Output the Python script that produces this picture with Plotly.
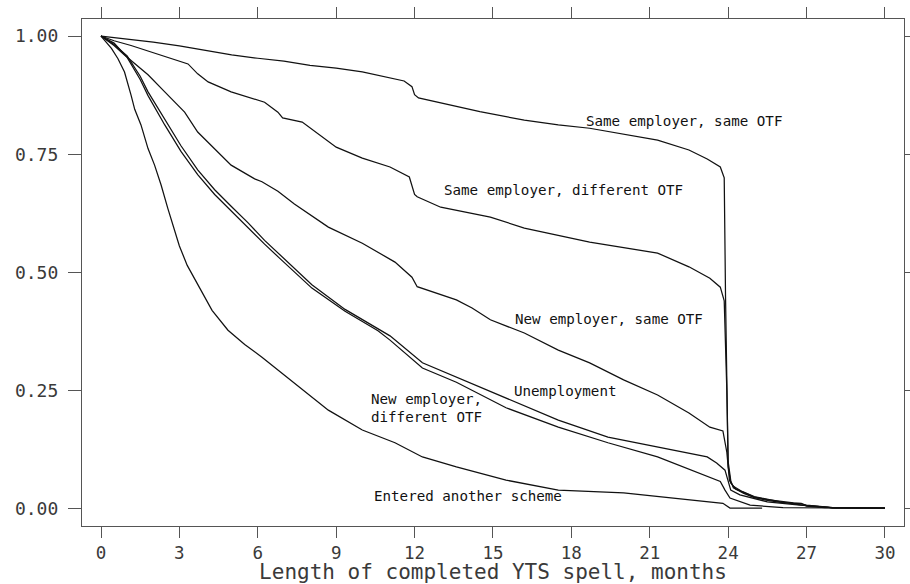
import plotly.graph_objects as go

# ---- data ----
month_A = [0, 1, 2, 3, 4, 5, 6, 7, 8, 9, 10, 11, 11.6, 11.9, 12.0, 12.15, 13, 14.5, 16.2, 17.5, 18.7, 20, 21.3, 22.5, 23.2, 23.7, 23.85, 23.9, 23.95, 24.0, 24.1, 24.3, 24.6, 25.0, 25.5, 26.0, 26.5, 26.8, 27.0, 27.7, 30]
surv_A = [1.0, 0.994, 0.987, 0.979, 0.969, 0.96, 0.953, 0.947, 0.938, 0.932, 0.924, 0.913, 0.905, 0.893, 0.876, 0.869, 0.858, 0.84, 0.822, 0.812, 0.805, 0.793, 0.78, 0.759, 0.74, 0.723, 0.70, 0.45, 0.2, 0.09, 0.055, 0.042, 0.035, 0.025, 0.02, 0.016, 0.013, 0.012, 0.006, 0.003, 0.002]

month_B = [0, 0.5, 1.15, 2.44, 3.33, 3.7, 4.1, 4.98, 6.26, 6.77, 6.95, 7.7, 9, 10, 11.06, 11.8, 12.0, 12.1, 13, 14.9, 16.2, 18.7, 21.3, 22.5, 23.3, 23.7, 23.85, 23.95, 24.0, 24.1, 24.2, 24.6, 25, 25.5, 26, 26.8, 27.0, 27.8, 28, 30]
surv_B = [1.0, 0.99, 0.98, 0.956, 0.941, 0.92, 0.903, 0.882, 0.86, 0.839, 0.827, 0.818, 0.765, 0.742, 0.723, 0.702, 0.665, 0.66, 0.638, 0.617, 0.594, 0.564, 0.541, 0.512, 0.488, 0.469, 0.44, 0.25, 0.1, 0.06, 0.045, 0.033, 0.024, 0.018, 0.014, 0.011, 0.008, 0.004, 0.002, 0.002]

month_C = [0, 0.5, 0.9, 1.8, 2.44, 3.2, 3.7, 4.35, 4.98, 5.88, 6.16, 6.77, 7.4, 8.7, 10, 11.25, 11.9, 12.1, 13.6, 14.2, 14.9, 16.2, 17.5, 18.7, 20, 21.3, 22.5, 23.3, 23.8, 23.95, 24.05, 24.2, 24.5, 25, 25.5, 26, 26.5, 27, 28, 30]
surv_C = [1.0, 0.98, 0.96, 0.918, 0.882, 0.839, 0.797, 0.762, 0.727, 0.698, 0.692, 0.672, 0.645, 0.596, 0.562, 0.522, 0.49, 0.47, 0.442, 0.425, 0.4, 0.372, 0.336, 0.309, 0.273, 0.241, 0.203, 0.173, 0.165, 0.12, 0.06, 0.048, 0.038, 0.026, 0.02, 0.015, 0.011, 0.007, 0.003, 0.002]

month_D = [0, 0.5, 1.0, 1.5, 1.8, 2.18, 2.44, 3.06, 3.7, 4.35, 4.98, 5.63, 6.26, 6.8, 8.07, 9.34, 10.6, 11.06, 12.3, 13.6, 15.5, 17.5, 19.4, 21.3, 23.2, 23.56, 23.88, 24.1, 24.45, 25.5, 26.75, 28, 30]
surv_D = [1.0, 0.982, 0.958, 0.915, 0.882, 0.847, 0.824, 0.768, 0.717, 0.675, 0.64, 0.605, 0.568, 0.54, 0.474, 0.422, 0.38, 0.366, 0.309, 0.279, 0.235, 0.188, 0.152, 0.131, 0.11, 0.097, 0.082, 0.04, 0.03, 0.015, 0.008, 0.003, 0.002]

month_E = [0, 0.5, 1.0, 1.5, 1.8, 2.18, 2.44, 3.06, 3.7, 4.35, 4.98, 5.63, 6.26, 6.8, 8.07, 9.34, 10.6, 11.06, 12.3, 13.6, 15.5, 17.5, 19.4, 21.3, 23.2, 23.7, 23.88, 24.07, 24.84, 26.1, 30]
surv_E = [1.0, 0.985, 0.955, 0.908, 0.874, 0.837, 0.812, 0.756, 0.707, 0.665, 0.63, 0.595, 0.56, 0.532, 0.467, 0.418, 0.377, 0.357, 0.298, 0.268, 0.214, 0.173, 0.14, 0.11, 0.068, 0.058, 0.04, 0.023, 0.008, 0.003, 0.002]

month_F = [0, 0.4, 0.65, 0.9, 1.15, 1.29, 1.53, 1.8, 2.05, 2.3, 2.56, 2.82, 3.0, 3.3, 3.6, 4.25, 4.86, 5.5, 6.16, 7.42, 8.7, 10, 11.25, 12.3, 13.6, 15.5, 17.5, 20, 22.5, 23.8, 24.07, 25.3]
surv_F = [1.0, 0.974, 0.952, 0.924, 0.875, 0.845, 0.812, 0.762, 0.727, 0.685, 0.635, 0.588, 0.556, 0.515, 0.484, 0.42, 0.378, 0.348, 0.321, 0.266, 0.209, 0.167, 0.14, 0.11, 0.089, 0.061, 0.04, 0.034, 0.019, 0.012, 0.002, 0.002]

series = [
    ("Same employer, same OTF", month_A, surv_A),
    ("Same employer, different OTF", month_B, surv_B),
    ("New employer, same OTF", month_C, surv_C),
    ("Unemployment", month_D, surv_D),
    ("New employer, different OTF", month_E, surv_E),
    ("Entered another scheme", month_F, surv_F),
]

label_text = ["Same employer, same OTF", "Same employer, different OTF",
              "New employer, same OTF", "Unemployment",
              "New employer,<br>different OTF", "Entered another scheme"]
label_x = [22.3, 17.7, 19.44, 17.78, 12.44, 14.03]
label_y = [0.820, 0.674, 0.402, 0.250, 0.2135, 0.028]

x_ticks = [0, 3, 6, 9, 12, 15, 18, 21, 24, 27, 30]
y_ticks = [0, 0.25, 0.5, 0.75, 1.0]
y_tick_text = ["0.00", "0.25", "0.50", "0.75", "1.00"]

fig = go.Figure()
for name, xs, ys in series:
    fig.add_trace(go.Scatter(x=xs, y=ys, mode="lines", name=name,
                             line=dict(color="#111111", width=1.25),
                             showlegend=False, hoverinfo="skip"))

for t, x, y in zip(label_text, label_x, label_y):
    fig.add_annotation(x=x, y=y, text=t, showarrow=False,
                       font=dict(family="DejaVu Sans Mono", size=14.2, color="#111111"),
                       xanchor="center", yanchor="middle", align="center")

axis_common = dict(showline=True, linecolor="#555555", linewidth=1.3, mirror="ticks",
                   ticks="outside", tickcolor="#555555", tickwidth=1.3,
                   showgrid=False, zeroline=False)

fig.update_xaxes(range=[-0.727, 30.73], tickvals=x_ticks, ticklen=11,
                 ticklabelstandoff=0,
                 tickfont=dict(family="DejaVu Sans Mono", size=17.5, color="#3a3a3a"),
                 title=dict(text="Length of completed YTS spell, months",
                            font=dict(family="DejaVu Sans Mono", size=21, color="#3a3a3a"),
                            standoff=5),
                 automargin=False, **axis_common)
fig.update_yaxes(range=[-0.036, 1.036], tickvals=y_ticks, ticktext=y_tick_text, ticklen=13,
                 ticklabelstandoff=6,
                 tickfont=dict(family="DejaVu Sans Mono", size=18, color="#3a3a3a"),
                 automargin=False, **axis_common)

fig.update_layout(width=910, height=584,
                  margin=dict(l=82, r=6, t=19, b=58),
                  plot_bgcolor="white", paper_bgcolor="white")

fig.write_html("out.html", config={"displayModeBar": False},
               post_script="document.body.style.margin='0';document.body.style.padding='0';document.body.style.overflow='hidden';")
